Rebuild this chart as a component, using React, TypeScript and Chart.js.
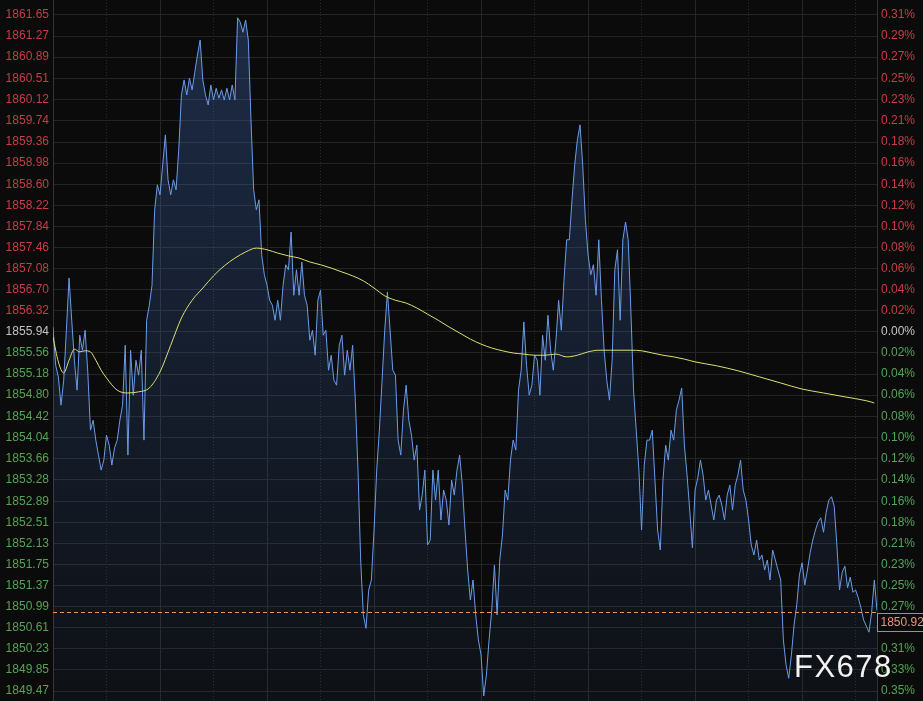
import React, { useEffect, useRef } from 'react';
import { Chart, registerables } from 'chart.js';

Chart.register(...registerables);

// ---- Tick labels ----
const leftTickLabels = [
  '1861.65', '1861.27', '1860.89', '1860.51', '1860.12', '1859.74', '1859.36', '1858.98',
  '1858.60', '1858.22', '1857.84', '1857.46', '1857.08', '1856.70', '1856.32', '1855.94',
  '1855.56', '1855.18', '1854.80', '1854.42', '1854.04', '1853.66', '1853.28', '1852.89',
  '1852.51', '1852.13', '1851.75', '1851.37', '1850.99', '1850.61', '1850.23', '1849.85',
  '1849.47',
];
const rightTickLabels = [
  '0.31%', '0.29%', '0.27%', '0.25%', '0.23%', '0.21%', '0.18%', '0.16%',
  '0.14%', '0.12%', '0.10%', '0.08%', '0.06%', '0.04%', '0.02%', '0.00%',
  '0.02%', '0.04%', '0.06%', '0.08%', '0.10%', '0.12%', '0.14%', '0.16%',
  '0.18%', '0.21%', '0.23%', '0.25%', '0.27%', '0.29%', '0.31%', '0.33%',
  '0.35%',
];
const baseLabel = '1855.94';

// ---- Price series (one point per time step) ----
const priceValues = [
  1856.03, 1855.34, 1855.13, 1854.62, 1855.07, 1855.97, 1856.91, 1856.15, 1855.43, 1854.89, 1855.88, 1855.61, 1855.97, 1855.22, 1854.17, 1854.35, 1853.99, 1853.72, 1853.45, 1853.63,
  1854.08, 1853.90, 1853.54, 1853.85, 1853.99, 1854.35, 1854.62, 1855.70, 1853.72, 1855.61, 1854.80, 1855.43, 1855.16, 1855.61, 1853.99, 1856.15, 1856.42, 1856.78, 1858.14, 1858.59,
  1858.41, 1858.95, 1859.49, 1858.68, 1858.41, 1858.68, 1858.50, 1859.22, 1860.21, 1860.48, 1860.21, 1860.51, 1860.30, 1860.62, 1860.93, 1861.20, 1860.48, 1860.21, 1860.03, 1860.39,
  1860.12, 1860.33, 1860.15, 1860.30, 1860.12, 1860.33, 1860.12, 1860.39, 1860.12, 1861.60, 1861.52, 1861.34, 1861.56, 1861.20, 1859.76, 1858.50, 1858.14, 1858.32, 1857.33, 1856.97,
  1856.78, 1856.51, 1856.42, 1856.15, 1856.51, 1856.15, 1856.78, 1857.15, 1857.06, 1857.74, 1856.60, 1857.06, 1856.60, 1857.20, 1856.60, 1856.42, 1855.79, 1855.97, 1855.52, 1856.51,
  1856.69, 1855.88, 1855.97, 1855.25, 1855.52, 1855.07, 1854.98, 1855.70, 1855.88, 1855.16, 1855.61, 1855.25, 1855.70, 1854.71, 1853.45, 1851.83, 1850.84, 1850.60, 1851.29, 1851.47,
  1852.37, 1853.45, 1854.17, 1855.07, 1855.97, 1856.66, 1855.97, 1855.25, 1855.16, 1853.99, 1853.72, 1854.53, 1854.98, 1854.35, 1854.08, 1853.63, 1853.90, 1852.73, 1853.00, 1853.45,
  1852.10, 1852.19, 1853.45, 1852.91, 1853.45, 1852.55, 1853.09, 1852.91, 1852.46, 1853.27, 1853.00, 1853.45, 1853.72, 1853.18, 1852.37, 1851.65, 1851.11, 1851.47, 1850.84, 1850.39,
  1850.12, 1849.38, 1849.76, 1850.39, 1850.93, 1851.74, 1850.84, 1851.83, 1852.28, 1853.09, 1852.91, 1853.63, 1853.99, 1853.81, 1854.89, 1855.25, 1856.12, 1855.34, 1854.80, 1854.98,
  1855.52, 1855.43, 1854.80, 1855.88, 1855.43, 1856.24, 1855.61, 1855.25, 1855.79, 1856.51, 1855.97, 1856.87, 1857.60, 1857.60, 1858.32, 1858.95, 1859.40, 1859.67, 1858.95, 1857.96,
  1857.33, 1856.97, 1857.15, 1856.60, 1857.60, 1856.51, 1855.61, 1855.07, 1854.71, 1855.43, 1857.06, 1857.42, 1856.15, 1857.60, 1857.92, 1857.60, 1856.33, 1854.89, 1854.17, 1853.45,
  1852.37, 1853.54, 1853.99, 1853.99, 1854.17, 1853.27, 1852.37, 1852.01, 1853.27, 1853.90, 1853.63, 1854.17, 1853.99, 1854.53, 1854.71, 1854.93, 1853.90, 1853.36, 1852.73, 1852.05,
  1853.09, 1853.31, 1853.63, 1853.36, 1852.91, 1853.09, 1852.82, 1852.55, 1852.91, 1853.00, 1852.82, 1852.55, 1853.00, 1853.18, 1852.73, 1853.18, 1853.36, 1853.63, 1853.09, 1852.91,
  1852.55, 1852.10, 1851.92, 1852.19, 1851.83, 1851.92, 1851.65, 1851.83, 1851.47, 1852.01, 1851.83, 1851.65, 1851.47, 1850.39, 1849.94, 1849.70, 1850.12, 1850.66, 1851.02, 1851.56,
  1851.78, 1851.38, 1851.65, 1851.96, 1852.19, 1852.37, 1852.52, 1852.59, 1852.33, 1852.69, 1852.91, 1852.97, 1852.80, 1852.10, 1851.29, 1851.61, 1851.72, 1851.33, 1851.52, 1851.25,
  1851.29, 1851.15, 1850.97, 1850.75, 1850.64, 1850.53, 1850.89, 1851.47, 1850.92,
];

// ---- Moving average (sampled time steps and values) ----
const maPositions = [
  0, 2, 4, 6, 8, 10, 12, 14, 16, 18, 20, 24, 28, 32, 36, 40, 44, 48, 52, 56,
  60, 64, 68, 72, 76, 80, 84, 88, 92, 96, 100, 104, 108, 112, 116, 120, 124, 128, 132, 136,
  140, 144, 148, 152, 156, 160, 164, 168, 172, 176, 180, 184, 188, 192, 196, 200, 204, 208, 212, 216,
  220, 224, 228, 232, 236, 240, 248, 256, 264, 272, 280, 288, 296, 304, 307,
];
const maValues = [
  1855.85, 1855.40, 1855.20, 1855.43, 1855.63, 1855.58, 1855.60, 1855.58, 1855.43, 1855.25, 1855.11, 1854.89, 1854.84, 1854.86, 1854.93, 1855.22, 1855.70, 1856.19, 1856.51, 1856.73,
  1856.95, 1857.13, 1857.27, 1857.38, 1857.45, 1857.42, 1857.36, 1857.31, 1857.27, 1857.20, 1857.15, 1857.09, 1857.02, 1856.95, 1856.86, 1856.73, 1856.59, 1856.51, 1856.46, 1856.37,
  1856.26, 1856.15, 1856.03, 1855.92, 1855.81, 1855.72, 1855.65, 1855.60, 1855.56, 1855.54, 1855.52, 1855.52, 1855.54, 1855.49, 1855.52, 1855.58, 1855.61, 1855.61, 1855.61, 1855.61,
  1855.60, 1855.56, 1855.52, 1855.49, 1855.45, 1855.40, 1855.33, 1855.24, 1855.13, 1855.02, 1854.91, 1854.84, 1854.77, 1854.70, 1854.66,
];

const lastPriceLabel = '1850.92';
const watermarkText = 'FX678';

const Y_MIN = 1849.29;
const Y_MAX = 1861.92;
const X_MAX = 308;
const X_GRID_STEP = 20;

const FONT = '"Liberation Sans", Arial, sans-serif';
const RED = 'rgb(202,60,70)';
const GREEN = 'rgb(84,164,86)';
const GRAY = 'rgb(196,196,200)';

const bgPlugin = {
  id: 'bgFill',
  beforeDraw(chart: any) {
    const { ctx, width, height } = chart;
    ctx.save();
    ctx.fillStyle = '#0b0b0b';
    ctx.fillRect(0, 0, width, height);
    ctx.restore();
  },
};

const overlayPlugin = {
  id: 'overlay',
  afterDraw(chart: any) {
    const { ctx, chartArea } = chart;
    const y = chart.scales.y.getPixelForValue(priceValues[priceValues.length - 1]);
    ctx.save();
    // dashed last-price line
    ctx.strokeStyle = '#e39a5c';
    ctx.lineWidth = 1;
    ctx.setLineDash([4, 3]);
    ctx.beginPath();
    ctx.moveTo(chartArea.left, Math.round(y) + 1.5);
    ctx.lineTo(chartArea.right, Math.round(y) + 1.5);
    ctx.stroke();
    ctx.setLineDash([]);
    // price tag
    const boxX = chartArea.right + 0.5;
    const boxY = Math.round(y) + 2.5;
    ctx.fillStyle = '#0b0b0b';
    ctx.fillRect(boxX, boxY, chart.width - boxX, 18);
    ctx.strokeStyle = '#c98068';
    ctx.strokeRect(boxX, boxY, chart.width - boxX + 2, 18);
    ctx.fillStyle = '#e8967a';
    ctx.font = `12px ${FONT}`;
    ctx.textBaseline = 'middle';
    ctx.textAlign = 'left';
    ctx.fillText(lastPriceLabel, boxX + 3, boxY + 9.5);
    // watermark
    ctx.fillStyle = '#f2f2f2';
    ctx.font = `31px ${FONT}`;
    ctx.textBaseline = 'alphabetic';
    (ctx as any).letterSpacing = '1.5px';
    ctx.fillText(watermarkText, 794, 677);
    ctx.restore();
  },
};

export default function App() {
  const ref = useRef<HTMLCanvasElement>(null);

  useEffect(() => {
    document.body.style.margin = '0';
    document.body.style.background = '#0b0b0b';
    const canvas = ref.current!;
    const baseIndex = leftTickLabels.indexOf(baseLabel);
    const tickColor = (i: number) => (i < baseIndex ? RED : i === baseIndex ? GRAY : GREEN);
    const yTicks = leftTickLabels.map((l) => ({ value: Number(l) }));
    const xTicks: { value: number }[] = [];
    for (let v = 0; v <= X_MAX; v += X_GRID_STEP) xTicks.push({ value: v });

    const chart = new Chart(canvas, {
      type: 'line',
      data: {
        datasets: [
          {
            label: 'MA',
            data: maPositions.map((x, i) => ({ x, y: maValues[i] })),
            borderColor: '#dede70',
            borderWidth: 1,
            pointRadius: 0,
            fill: false,
            cubicInterpolationMode: 'monotone',
            order: 0,
          },
          {
            label: 'Price',
            data: priceValues.map((y, i) => ({ x: i, y })),
            borderColor: '#6a9be8',
            borderWidth: 1,
            pointRadius: 0,
            tension: 0,
            fill: 'start',
            order: 1,
            backgroundColor: (c: any) => {
              const area = c.chart.chartArea;
              if (!area) return 'rgba(70,120,210,0.15)';
              const g = c.chart.ctx.createLinearGradient(0, area.top, 0, area.bottom);
              g.addColorStop(0, 'rgba(70,120,210,0.30)');
              g.addColorStop(1, 'rgba(70,120,210,0.05)');
              return g;
            },
          },
        ],
      },
      options: {
        animation: false,
        responsive: false,
        layout: { padding: 0 },
        plugins: { legend: { display: false }, tooltip: { enabled: false } },
        scales: {
          x: {
            type: 'linear',
            min: 0,
            max: X_MAX,
            afterBuildTicks: (s: any) => { s.ticks = xTicks.map((t) => ({ ...t })); },
            ticks: { display: false },
            grid: {
              drawTicks: false,
              color: (c: any) => (c.tick && c.tick.value % (X_GRID_STEP * 2) === 0 ? '#262626' : '#2a2a2a'),
            },
            border: {
              display: false,
              dash: (c: any) => (c.tick && c.tick.value % (X_GRID_STEP * 2) === 0 ? [] : [1, 2]),
            },
            afterFit: (s: any) => { s.height = 0; s.paddingLeft = 0; s.paddingRight = 0; },
          },
          y: {
            type: 'linear',
            position: 'left',
            min: Y_MIN,
            max: Y_MAX,
            afterBuildTicks: (s: any) => { s.ticks = yTicks.map((t) => ({ ...t })); },
            ticks: {
              autoSkip: false,
              padding: 4,
              color: (c: any) => tickColor(c.index),
              font: { family: FONT, size: 12 },
              callback: (_v: any, i: number) => leftTickLabels[i],
            },
            grid: { drawTicks: false, color: '#242424' },
            border: { color: '#333333' },
            afterFit: (s: any) => { s.width = 53; s.paddingTop = 0; s.paddingBottom = 0; },
          },
          yr: {
            type: 'linear',
            position: 'right',
            min: Y_MIN,
            max: Y_MAX,
            afterBuildTicks: (s: any) => { s.ticks = yTicks.map((t) => ({ ...t })); },
            ticks: {
              autoSkip: false,
              padding: 4,
              color: (c: any) => tickColor(c.index),
              font: { family: FONT, size: 12 },
              callback: (_v: any, i: number) => rightTickLabels[i],
            },
            grid: { display: false, drawTicks: false },
            border: { color: '#333333' },
            afterFit: (s: any) => { s.width = 46; s.paddingTop = 0; s.paddingBottom = 0; },
          },
        },
      },
      plugins: [bgPlugin, overlayPlugin],
    } as any);

    return () => chart.destroy();
  }, []);

  return (
    <div style={{ width: 923, height: 701, position: 'relative', background: '#0b0b0b' }}>
      <canvas ref={ref} width={923} height={701} style={{ display: 'block' }} />
    </div>
  );
}
